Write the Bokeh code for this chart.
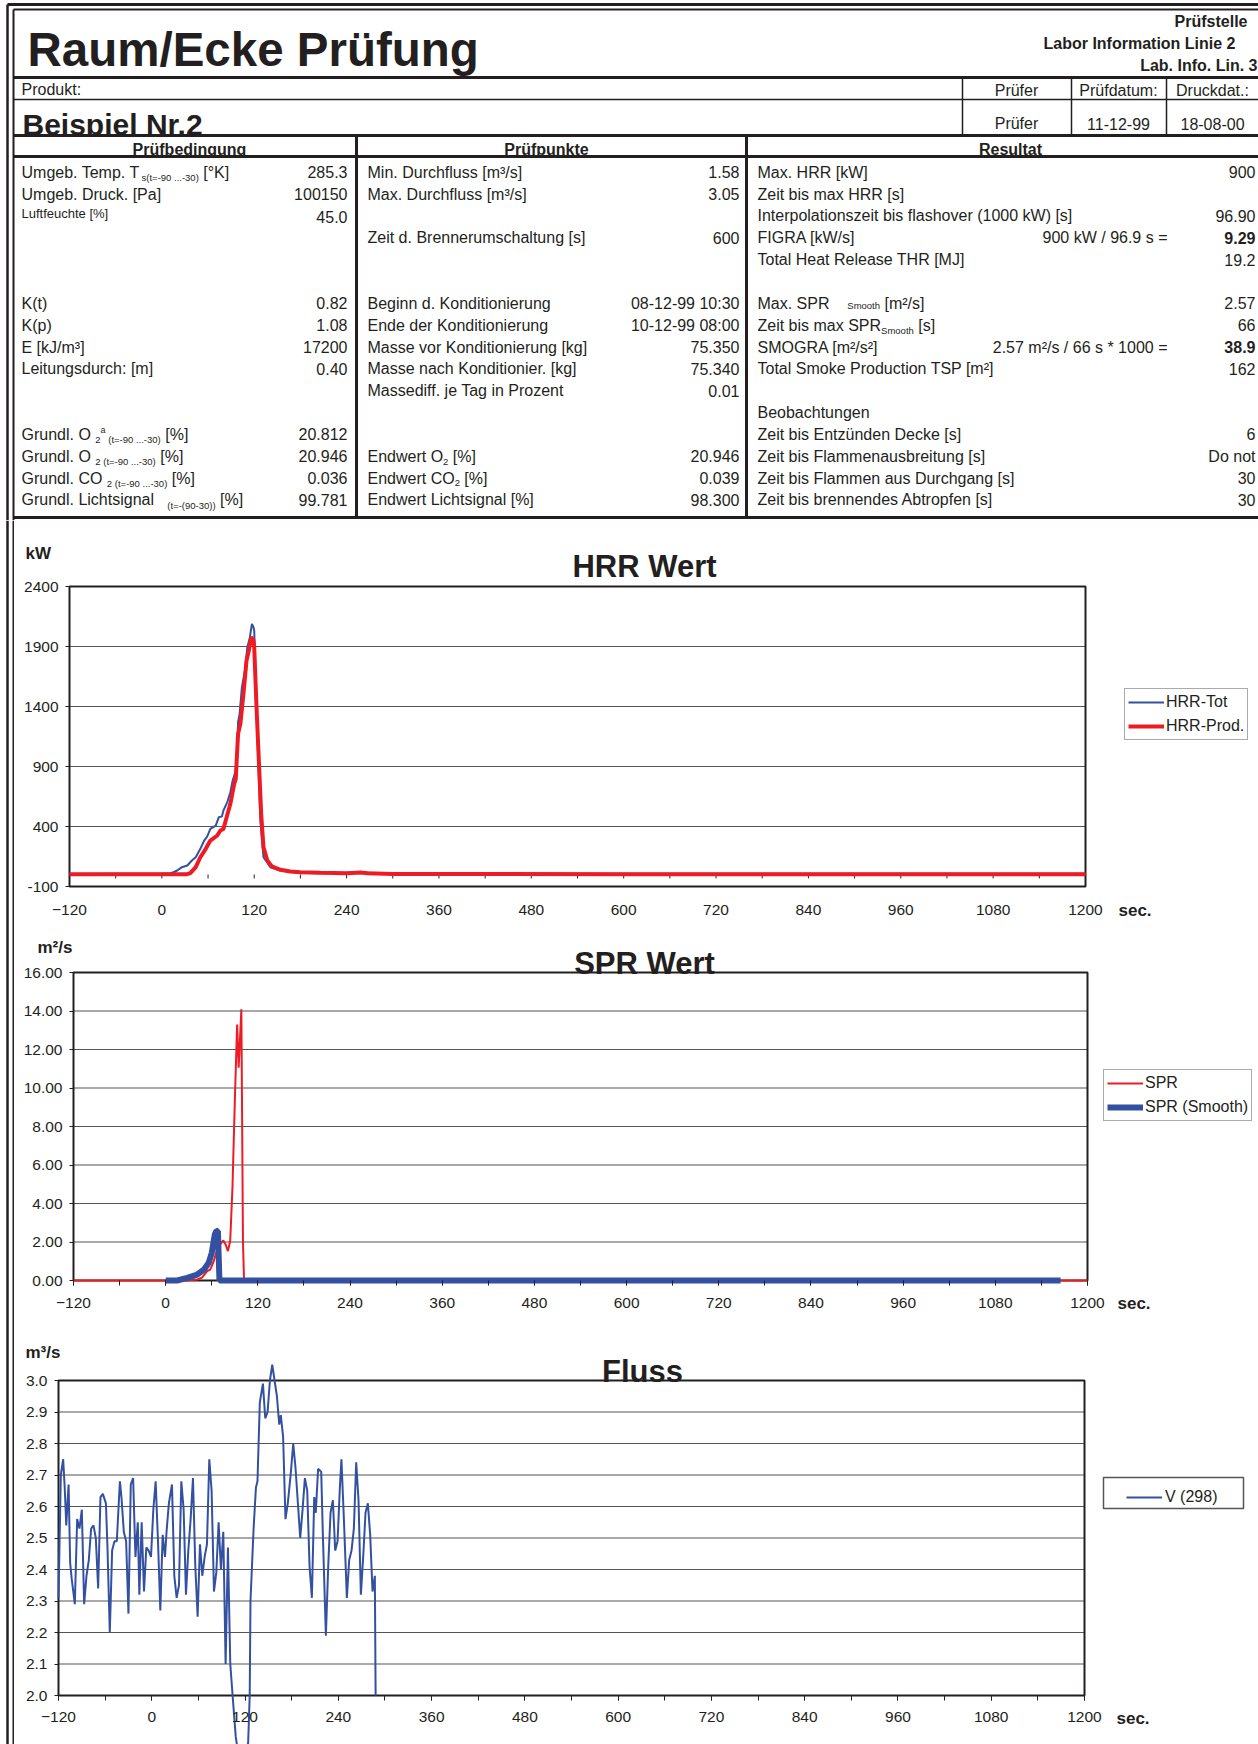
import re
from collections import defaultdict
from bokeh.plotting import figure
from bokeh.layouts import column, row
from bokeh.models import Range1d, FixedTicker, PrintfTickFormatter, Legend, LegendItem, Label
from bokeh.core.properties import value
from bokeh.embed import file_html
from bokeh.resources import INLINE

FONT = "Liberation Sans"
INK = "#231f20"
BLUE = "#3451a1"
RED = "#ed1c24"
GRID = "#555555"
BASE_SHIFT = 0.35   # compensation of the renderer's alphabetic baseline offset (in em)

# ------------------------------------------------------------------ header content
TITLE = "Raum/Ecke Prüfung"
LAB_LINES = ["Prüfstelle", "Labor Information Linie 2", "Lab. Info. Lin. 3"]
PRODUCT_LABEL = "Produkt:"
PRODUCT = "Beispiel Nr.2"
TESTER_HEAD = ["Prüfer", "Prüfdatum:", "Druckdat.:"]
TESTER_VALS = ["Prüfer", "11-12-99", "18-08-00"]
SECTION_HEADS = ["Prüfbedingung", "Prüfpunkte", "Resultat"]

COND_LABELS = ["Umgeb. Temp. T_{s(t=-90 ...-30)} [°K]", "Umgeb. Druck. [Pa]", "~{Luftfeuchte [%]}", "", "", "",
               "K(t)", "K(p)", "E [kJ/m³]", "Leitungsdurch: [m]", "", "",
               "Grundl. O _{2}^{a}_{ (t=-90 ...-30)} [%]", "Grundl. O _{2 (t=-90 ...-30)} [%]",
               "Grundl. CO _{2 (t=-90 ...-30)} [%]", "Grundl. Lichtsignal   _{(t=-(90-30))} [%]"]
COND_VALUES = ["285.3", "100150", "45.0", "", "", "", "0.82", "1.08", "17200", "0.40", "", "",
               "20.812", "20.946", "0.036", "99.781"]

POINT_LABELS = ["Min. Durchfluss [m³/s]", "Max. Durchfluss [m³/s]", "", "Zeit d. Brennerumschaltung [s]", "", "",
                "Beginn d. Konditionierung", "Ende der Konditionierung", "Masse vor Konditionierung [kg]",
                "Masse nach Konditionier. [kg]", "Massediff. je Tag in Prozent", "", "",
                "Endwert O_{2} [%]", "Endwert CO_{2} [%]", "Endwert Lichtsignal [%]"]
POINT_VALUES = ["1.58", "3.05", "", "600", "", "", "08-12-99 10:30", "10-12-99 08:00", "75.350", "75.340",
                "0.01", "", "", "20.946", "0.039", "98.300"]

RESULT_LABELS = ["Max. HRR [kW]", "Zeit bis max HRR [s]", "Interpolationszeit bis flashover (1000 kW) [s]",
                 "FIGRA [kW/s]", "Total Heat Release THR [MJ]", "", "Max. SPR    #{Smooth} [m²/s]",
                 "Zeit bis max SPR_{Smooth} [s]", "SMOGRA [m²/s²]", "Total Smoke Production TSP [m²]", "",
                 "Beobachtungen", "Zeit bis Entzünden Decke [s]", "Zeit bis Flammenausbreitung [s]",
                 "Zeit bis Flammen aus Durchgang [s]", "Zeit bis brennendes Abtropfen [s]"]
RESULT_FORMULAS = ["", "", "", "900 kW / 96.9 s =", "", "", "", "", "2.57 m²/s / 66 s * 1000 =", "",
                   "", "", "", "", "", ""]
RESULT_VALUES = ["900", "", "96.90", "9.29", "19.2", "", "2.57", "66", "38.9", "162", "", "",
                 "6", "Do not", "30", "30"]
RESULT_BOLD = [3, 8]

# ------------------------------------------------------------------ chart data
X_LIMITS = [-120, 1200]
X_LABEL_TICKS = [-120, 0, 120, 240, 360, 480, 600, 720, 840, 960, 1080, 1200]
X_MINOR_TICKS = [-120, -60, 0, 60, 120, 180, 240, 300, 360, 420, 480, 540, 600, 660, 720, 780,
                 840, 900, 960, 1020, 1080, 1140, 1200]

HRR_Y_TICKS = [-100, 400, 900, 1400, 1900, 2400]
HRR_TOT_T = [-120, -60, 0, 11, 15, 20, 26, 33, 39, 44, 50, 55, 59, 63, 70, 74, 78, 80, 85, 89, 92, 96, 98,
             99, 101, 104, 108, 111, 114, 117, 119, 120, 122, 125, 128, 132, 141, 154, 172, 202, 240, 260,
             280, 300, 600, 900, 1200]
HRR_TOT = [5, 6, 8, 11, 19, 33, 61, 75, 117, 144, 214, 283, 317, 380, 408, 478, 483, 533, 603, 686, 783,
           867, 1033, 1269, 1339, 1561, 1700, 1894, 1964, 2089, 2061, 2033, 1561, 1006, 450, 144, 61, 33,
           19, 11, 14, 16, 12, 8, 6, 6, 6]
HRR_PROD_T = [-120, -60, 0, 33, 37, 44, 50, 57, 63, 72, 76, 80, 83, 89, 94, 96, 99, 102, 106, 110, 113,
              116, 119, 120, 123, 126, 129, 132, 137, 143, 154, 167, 180, 206, 241, 258, 267, 300, 600,
              900, 1200]
HRR_PROD = [3, 3, 3, 3, 11, 61, 144, 214, 283, 325, 367, 380, 450, 589, 756, 797, 1172, 1256, 1506, 1783,
            1867, 1978, 1950, 1894, 1394, 950, 506, 228, 117, 67, 39, 25, 19, 14, 11, 16, 11, 5, 3, 3, 3]

SPR_Y_TICKS = [0, 2, 4, 6, 8, 10, 12, 14, 16]
SPR_T = [-120, 0, 28, 41, 47, 54, 58, 62.5, 67, 71, 75, 78, 81, 84, 87, 90, 93, 95, 98.5, 100.6, 102,
         600, 1200]
SPR = [0, 0, 0, 0.05, 0.14, 0.49, 0.57, 1.0, 1.61, 1.87, 2.08, 1.87, 1.53, 2.05, 4.9, 9.3, 13.3, 11.06,
       14.09, 2.05, 0.0, 0, 0]
SPR_SMOOTH_T = [0, 15, 28, 41, 50, 56, 60, 64, 66, 68, 70, 600, 1165]
SPR_SMOOTH = [0, 0, 0.14, 0.31, 0.57, 0.92, 1.44, 2.4, 2.57, 2.57, 0, 0, 0]

FLOW_Y_TICKS = [2.0, 2.1, 2.2, 2.3, 2.4, 2.5, 2.6, 2.7, 2.8, 2.9, 3.0]
FLOW_T = [-120, -117, -114, -112, -110, -108, -107, -105, -103, -99, -96, -93, -90, -87, -84, -81, -78,
          -75, -72, -69, -66, -63, -59, -57, -54, -51, -48, -45, -41, -39, -36, -33, -30, -27, -24, -21,
          -18, -16, -13, -10, -7, -4, -1, 2, 5, 8, 11, 14, 17, 19, 22, 26, 29, 32, 35, 38, 41, 44, 47,
          50, 53, 56, 59, 62, 65, 68, 71, 74, 77, 80, 83, 86, 89, 92, 95, 98, 101, 104, 108, 115, 124,
          126, 127, 131, 134, 136, 139, 143, 146, 149, 152, 155, 158, 161, 164, 166, 169, 172, 175, 179,
          182, 185, 188, 191, 194, 197, 200, 203, 206, 209, 211, 214, 218, 220, 224, 227, 230, 233, 236,
          239, 242, 244, 247, 251, 254, 257, 260, 263, 266, 269, 272, 275, 278, 281, 284, 287, 288]
FLOW = [2.31, 2.70, 2.75, 2.66, 2.54, 2.63, 2.67, 2.42, 2.37, 2.29, 2.56, 2.53, 2.59, 2.29, 2.38, 2.43,
        2.53, 2.54, 2.50, 2.34, 2.63, 2.64, 2.61, 2.47, 2.20, 2.46, 2.49, 2.49, 2.68, 2.63, 2.52, 2.49,
        2.26, 2.67, 2.69, 2.44, 2.55, 2.32, 2.55, 2.33, 2.47, 2.46, 2.44, 2.59, 2.68, 2.49, 2.27, 2.51,
        2.44, 2.52, 2.61, 2.67, 2.38, 2.31, 2.35, 2.68, 2.59, 2.32, 2.46, 2.56, 2.69, 2.41, 2.25, 2.48,
        2.38, 2.44, 2.48, 2.75, 2.65, 2.33, 2.39, 2.55, 2.40, 2.52, 2.10, 2.47, 2.10, 2.00, 1.87, 1.75,
        1.85, 2.00, 2.30, 2.53, 2.66, 2.68, 2.93, 2.99, 2.88, 2.90, 3.00, 3.05, 3.00, 2.95, 2.86, 2.89,
        2.82, 2.56, 2.61, 2.71, 2.80, 2.72, 2.61, 2.50, 2.59, 2.69, 2.65, 2.41, 2.31, 2.63, 2.58, 2.72,
        2.71, 2.52, 2.19, 2.41, 2.58, 2.62, 2.46, 2.49, 2.66, 2.75, 2.57, 2.31, 2.43, 2.46, 2.53, 2.74,
        2.62, 2.32, 2.44, 2.58, 2.61, 2.51, 2.33, 2.38, 2.00]

# ------------------------------------------------------------------ text metrics (Arial/Liberation)
W = {' ': 278, '!': 278, '(': 333, ')': 333, '*': 389, '+': 584, ',': 278, '-': 333, '.': 278, '/': 278,
     ':': 278, '=': 584, '[': 278, ']': 278, '°': 400, '²': 333, '³': 333, '%': 889, '…': 1000}
for c in "0123456789":
    W[c] = 556
W.update(dict(zip("ABCDEFGHIJKLMNOPQRSTUVWXYZ",
                  [667, 667, 722, 722, 667, 611, 778, 722, 278, 500, 667, 556, 833, 722, 778, 667, 778,
                   722, 667, 611, 722, 667, 944, 667, 667, 611])))
W.update(dict(zip("abcdefghijklmnopqrstuvwxyz",
                  [556, 556, 500, 556, 556, 278, 556, 556, 222, 222, 500, 222, 833, 556, 556, 556, 556,
                   333, 500, 278, 556, 500, 722, 500, 500, 500])))
W.update({'ü': 556, 'ä': 556, 'ö': 556})


def tw(s, size):
    return sum(W.get(c, 556) for c in s) * size / 1000.0


TOKEN = re.compile(r'([_^~#])\{([^}]*)\}')
STYLE = {"n": (16, 0), "_": (9.5, 3), "^": (9, -7), "~": (13, -3), "#": (9.5, 0)}


def parse(s):
    out, pos = [], 0
    for m in TOKEN.finditer(s):
        if m.start() > pos:
            out.append(("n", s[pos:m.start()]))
        out.append((m.group(1), m.group(2)))
        pos = m.end()
    if pos < len(s):
        out.append(("n", s[pos:]))
    return out


# ------------------------------------------------------------------ table figure
tab = figure(width=1258, height=520, x_range=Range1d(0, 1258), y_range=Range1d(520, 0),
             output_backend="svg", toolbar_location=None, x_axis_location=None, y_axis_location=None,
             min_border=0, title=None)
tab.outline_line_color = None
tab.grid.visible = False
tab.background_fill_color = "white"
tab.border_fill_color = "white"

groups = defaultdict(lambda: {"x": [], "y": [], "text": []})


def put(x, yb, s, size, bold=False, align="left"):
    g = groups[(size, bold, align)]
    g["x"].append(x)
    g["y"].append(yb - BASE_SHIFT * size)
    g["text"].append(s)


def put_rich(x, yb, s):
    for kind, txt in parse(s):
        size, dy = STYLE[kind]
        core = txt.strip(' ')
        lead = len(txt) - len(txt.lstrip(' '))
        x += lead * 0.278 * size
        if core:
            put(x, yb + dy, core, size)
            x += tw(core, size)
            x += (len(txt) - len(txt.rstrip(' '))) * 0.278 * size


def flush(fig):
    for (size, bold, align), g in groups.items():
        fig.text(x=g["x"], y=g["y"], text=g["text"], text_font=value(FONT),
                 text_font_size=f"{size}px", text_font_style="bold" if bold else "normal",
                 text_align=align, text_baseline="alphabetic", text_color=INK)
    groups.clear()


# product name first, then mask its lower part (cell clipping)
put(22, 134, PRODUCT, 30, True)
flush(tab)
tab.quad(left=14, right=1258, top=136.5, bottom=156, fill_color="white", line_color=None)

put(27, 66, TITLE, 47.5, True)
for txt, xr, yb in zip(LAB_LINES, [1247, 1235, 1257], [27, 49, 71]):
    put(xr, yb, txt, 16, True, "right")
put(21, 95, PRODUCT_LABEL, 16)
cell_cx = [1016, 1118, 1212]
for txt, cx in zip(TESTER_HEAD, cell_cx):
    put(cx, 95.5, txt, 16, False, "center")
for txt, cx in zip(TESTER_VALS, cell_cx):
    put(cx, 129, txt, 16, False, "center")
for txt, cx in zip(SECTION_HEADS, [189, 546, 1010]):
    put(cx, 155, txt, 16, True, "center")

ROW0, PITCH = 171.3, 21.85
for i in range(16):
    yb = ROW0 + PITCH * i + 6
    if COND_LABELS[i]:
        put_rich(21, yb, COND_LABELS[i])
    if COND_VALUES[i]:
        put(347, yb + (1 if i == 2 else 0), COND_VALUES[i], 16, False, "right")
    if POINT_LABELS[i]:
        put_rich(367, yb, POINT_LABELS[i])
    if POINT_VALUES[i]:
        put(739, yb, POINT_VALUES[i], 16, False, "right")
    if RESULT_LABELS[i]:
        put_rich(757, yb, RESULT_LABELS[i])
    if RESULT_FORMULAS[i]:
        put(1167, yb, RESULT_FORMULAS[i], 16, False, "right")
    if RESULT_VALUES[i]:
        put(1255, yb, RESULT_VALUES[i], 16, i in RESULT_BOLD, "right")
flush(tab)

# rules of the form
hx0 = [7, 13, 13, 13, 13, 13, 13]
hx1 = [1258] * 7
hy = [4, 9, 77, 99, 135, 156, 517]
hw = [3, 2, 3, 1.5, 3, 3, 3]
tab.segment(x0=hx0, y0=hy, x1=hx1, y1=hy, line_width=hw, line_color=INK)
vx = [7, 13, 962, 1071, 1166, 356, 746]
vy0 = [4, 9, 77, 77, 77, 135, 135]
vy1 = [520, 520, 135, 135, 135, 517, 517]
vw = [2.5, 2, 1.5, 1.5, 1.5, 3, 3]
tab.segment(x0=vx, y0=vy0, x1=vx, y1=vy1, line_width=vw, line_color=INK)

# ------------------------------------------------------------------ left border strip
strip = figure(width=14, height=1224, x_range=Range1d(0, 14), y_range=Range1d(1224, 0),
               output_backend="svg", toolbar_location=None, x_axis_location=None, y_axis_location=None,
               min_border=0, title=None)
strip.outline_line_color = None
strip.grid.visible = False
strip.segment(x0=[7, 13], y0=[0, 0], x1=[7, 13], y1=[1224, 1224], line_width=[2.5, 2], line_color=INK)

FIG_LEFT = 14     # page x where chart figures start
PAGE_RIGHT = 1258


# ------------------------------------------------------------------ charts
def chart(region, box, ylim, yticks, yfmt, x_out, x_stand):
    top, bottom = region
    L, T, R, B = box
    sx = (R - L) / (X_LIMITS[1] - X_LIMITS[0])
    sy = (B - T) / (ylim[1] - ylim[0])
    xr = Range1d(X_LIMITS[0] - (L - FIG_LEFT) / sx, X_LIMITS[1] + (PAGE_RIGHT - R) / sx)
    yr = Range1d(ylim[0] - (bottom - B) / sy, ylim[1] + (T - top) / sy)
    p = figure(width=PAGE_RIGHT - FIG_LEFT, height=bottom - top, x_range=xr, y_range=yr,
               output_backend="svg", toolbar_location=None, title=None, min_border=0)
    p.background_fill_color = "white"
    p.border_fill_color = "white"
    p.outline_line_color = None
    p.grid.visible = False
    # horizontal grid lines across the plot box
    p.segment(x0=[X_LIMITS[0]] * len(yticks), y0=yticks, x1=[X_LIMITS[1]] * len(yticks), y1=yticks,
              line_color=GRID, line_width=1.2)
    p.quad(left=X_LIMITS[0], right=X_LIMITS[1], bottom=ylim[0], top=ylim[1], fill_color=None,
           line_color=INK, line_width=2)
    p.yaxis.ticker = FixedTicker(ticks=yticks)
    p.yaxis.formatter = PrintfTickFormatter(format=yfmt)
    p.xaxis.ticker = FixedTicker(ticks=X_LABEL_TICKS, minor_ticks=X_MINOR_TICKS)
    p.xaxis.fixed_location = ylim[0]
    p.yaxis.fixed_location = X_LIMITS[0]
    for ax in p.axis:
        ax.axis_line_color = None
        ax.major_label_text_font = FONT
        ax.major_label_text_font_size = "15.5px"
        ax.major_label_text_color = INK
        ax.major_tick_line_color = INK
        ax.minor_tick_line_color = INK
        ax.major_tick_in = 0
        ax.minor_tick_in = 0
    p.yaxis.major_tick_out = 4
    p.yaxis.minor_tick_out = 0
    p.yaxis.major_label_standoff = 7
    p.xaxis.major_tick_out = x_out
    p.xaxis.minor_tick_out = x_out
    p.xaxis.major_label_standoff = x_stand

    def to_data(px, py):
        return X_LIMITS[0] + (px - L) / sx, ylim[0] + (B - py) / sy
    return p, to_data


def label(p, region, px, yb, text, size, align="left"):
    p.add_layout(Label(x=px - FIG_LEFT, y=region[1] - (yb - BASE_SHIFT * size), x_units="screen",
                       y_units="screen", text=text, text_font=FONT, text_font_size=f"{size}px",
                       text_font_style="bold", text_color=INK, text_align=align,
                       text_baseline="alphabetic"))


def legend(p, region, items, left, bottom, pad=3, label_width=20, border=True, standoff=2):
    lg = Legend(items=items, location=(left - FIG_LEFT, region[1] - bottom), label_text_font=FONT,
                label_text_font_size="16px", label_text_color=INK, glyph_width=36, glyph_height=20,
                label_height=20, label_standoff=standoff, spacing=4, padding=pad, margin=0,
                label_width=label_width, border_line_color="#555555" if border else None,
                border_line_width=1.5, background_fill_color="white",
                background_fill_alpha=1.0 if border else 0.0)
    p.add_layout(lg)


# HRR
HRR_REGION = (520, 935)
hrr, _ = chart(HRR_REGION, (69, 586, 1085, 886), (-100, 2400), HRR_Y_TICKS, "%d", 0, 18)
hrr.segment(x0=X_MINOR_TICKS, y0=[0] * len(X_MINOR_TICKS), x1=X_MINOR_TICKS,
            y1=[-33] * len(X_MINOR_TICKS), line_color=INK, line_width=1)
r_tot = hrr.line(HRR_TOT_T, HRR_TOT, line_color=BLUE, line_width=2)
r_prod = hrr.line(HRR_PROD_T, HRR_PROD, line_color=RED, line_width=4)
label(hrr, HRR_REGION, 25, 559, "kW", 17)
label(hrr, HRR_REGION, 644, 577, "HRR Wert", 31, "center")
label(hrr, HRR_REGION, 1118, 916, "sec.", 17)
legend(hrr, HRR_REGION, [LegendItem(label="HRR-Tot", renderers=[r_tot]),
                         LegendItem(label="HRR-Prod.", renderers=[r_prod])], 1124, 740)

# SPR
SPR_REGION = (935, 1325)
spr, _ = chart(SPR_REGION, (73, 972, 1087, 1280), (0, 16), SPR_Y_TICKS, "%.2f", 5, 12)
r_spr = spr.line(SPR_T, SPR, line_color=RED, line_width=2)
r_sm = spr.line(SPR_SMOOTH_T, SPR_SMOOTH, line_color=BLUE, line_width=6)
label(spr, SPR_REGION, 37, 953, "m²/s", 17)
label(spr, SPR_REGION, 644, 974, "SPR Wert", 31, "center")
label(spr, SPR_REGION, 1117, 1309, "sec.", 17)
legend(spr, SPR_REGION, [LegendItem(label="SPR", renderers=[r_spr]),
                         LegendItem(label="SPR (Smooth)", renderers=[r_sm])], 1103, 1121)

# Fluss
FLOW_REGION = (1325, 1744)
flow, flow_px = chart(FLOW_REGION, (58, 1380, 1084, 1695), (2.0, 3.0), FLOW_Y_TICKS, "%.1f", 5, 11)
r_v = flow.line(FLOW_T, FLOW, line_color=BLUE, line_width=2)
# the legend frame of this chart is wider than its content: draw the frame, centre the entry in it
(bx0, by0), (bx1, by1) = flow_px(1103, 1508), flow_px(1243, 1477)
flow.quad(left=bx0, right=bx1, bottom=by0, top=by1, fill_color="white", line_color="#555555",
          line_width=1.5)
label(flow, FLOW_REGION, 25, 1358, "m³/s", 17)
label(flow, FLOW_REGION, 642, 1382, "Fluss", 31, "center")
label(flow, FLOW_REGION, 1116, 1724, "sec.", 17)
legend(flow, FLOW_REGION, [LegendItem(label="V (298)", renderers=[r_v])], 1126, 1507, pad=3,
       label_width=60, border=False, standoff=3)

layout = column(tab, row(strip, column(hrr, spr, flow)))
open("out.html", "w").write(file_html(layout, INLINE, title="Raum/Ecke Prüfung"))
